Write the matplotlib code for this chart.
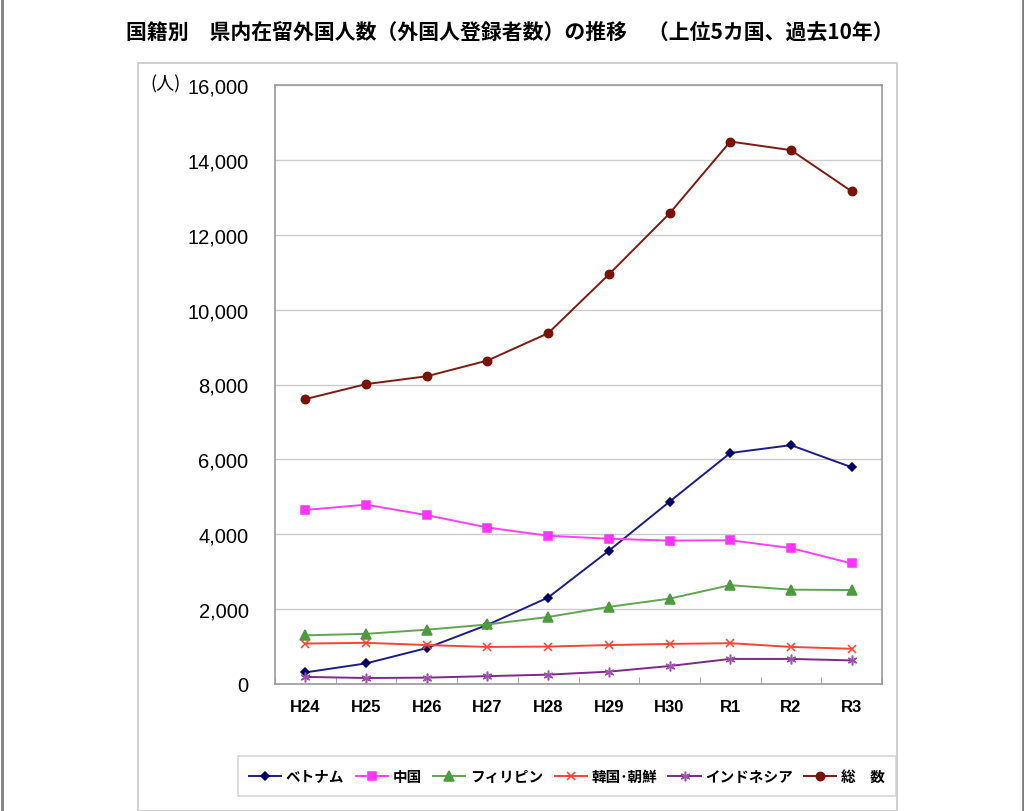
import matplotlib
matplotlib.use('Agg')
import matplotlib.pyplot as plt
from matplotlib.lines import Line2D
from matplotlib.patches import Rectangle
import numpy as np

plt.rcParams['font.family'] = ['Liberation Sans', 'Noto Sans CJK JP']

years = ['H24', 'H25', 'H26', 'H27', 'H28', 'H29', 'H30', 'R1', 'R2', 'R3']

vietnam = [310, 550, 960, 1580, 2310, 3560, 4870, 6170, 6380, 5790]
china = [4650, 4790, 4510, 4180, 3960, 3880, 3830, 3840, 3630, 3220]
philippines = [1300, 1340, 1450, 1590, 1790, 2060, 2280, 2640, 2520, 2510]
korea = [1080, 1100, 1040, 990, 1000, 1040, 1070, 1090, 990, 940]
indonesia = [190, 160, 170, 210, 250, 330, 480, 670, 670, 630]
total = [7610, 8010, 8220, 8640, 9370, 10940, 12570, 14490, 14260, 13160]

series = [
    ('ベトナム', vietnam, '#1c1c8c', '#000066', 'D', 4),
    ('中国', china, '#ff40ff', '#ff33ff', 's', 6),
    ('フィリピン', philippines, '#5fa552', '#4e9a3e', '^', 6.5),
    ('韓国･朝鮮', korea, '#ff4433', '#ff4433', 'x', 6),
    ('インドネシア', indonesia, '#7a2a88', '#a050b0', (6, 2, 0), 7),
    ('総　数', total, '#7f1a10', '#7a1208', 'o', 6),
]

fig = plt.figure(figsize=(10.24, 8.12), dpi=100)
W, H = 1024, 812

# page border and chart frame
fig.add_artist(Line2D([1.5 / W, 1.5 / W], [0, 1], color='#808080', lw=2))
fig.add_artist(Line2D([1 - 1.5 / W, 1 - 1.5 / W], [0, 1], color='#808080', lw=2))
fig.add_artist(Rectangle((138 / W, 1 - 812 / H), (897 - 138) / W, (812 - 64) / H,
                         fill=False, edgecolor='#c8c8c8', lw=1.2))

ax = fig.add_axes([275 / W, 1 - 685 / H, (882 - 275) / W, (685 - 86) / H])
x = np.arange(len(years))
for name, vals, lc, mc, mk, ms in series:
    ax.plot(x, vals, color=lc, lw=1.4, marker=mk, markersize=ms,
            markerfacecolor=mc, markeredgecolor=mc, markeredgewidth=1.1, label=name)

ax.set_xlim(-0.5, len(years) - 0.5)
ax.set_ylim(0, 16000)
ax.set_yticks(np.arange(0, 16001, 2000))
ax.set_yticklabels([f'{v:,}' for v in range(0, 16001, 2000)], fontsize=14.5)
ax.set_xticks(x)
ax.set_xticklabels(years, fontsize=12, fontweight='bold')
ax.set_xticks(np.arange(-0.5, len(years), 1), minor=True)
ax.tick_params(axis='x', which='major', length=0, pad=11)
ax.tick_params(axis='x', which='minor', length=5, direction='in', color='#999999')
ax.tick_params(axis='y', length=0, pad=19)
ax.grid(axis='y', color='#cccccc', lw=1)
ax.set_axisbelow(True)
for s in ax.spines.values():
    s.set_color('#999999')
    s.set_linewidth(1.2)

fig.text(166 / W, 1 - 84 / H, '(人)', fontsize=13, ha='center', va='center',
         family=['Noto Sans CJK JP'])
fig.text(510 / W, 1 - 32 / H,
         '国籍別　県内在留外国人数（外国人登録者数）の推移　（上位5カ国、過去10年）',
         fontsize=15, fontweight='bold', ha='center', va='center',
         family=['Noto Sans CJK JP'])

leg = fig.legend(loc='center', bbox_to_anchor=(567 / W, 1 - 777 / H), ncol=6,
                 frameon=True, fancybox=False, edgecolor='#cccccc',
                 prop={'family': 'Noto Sans CJK JP', 'size': 10.5, 'weight': 'bold'},
                 handlelength=2.2, columnspacing=0.8, handletextpad=0.3,
                 borderpad=0.8)
leg.get_frame().set_linewidth(1.2)

fig.savefig('out.png', dpi=100)
